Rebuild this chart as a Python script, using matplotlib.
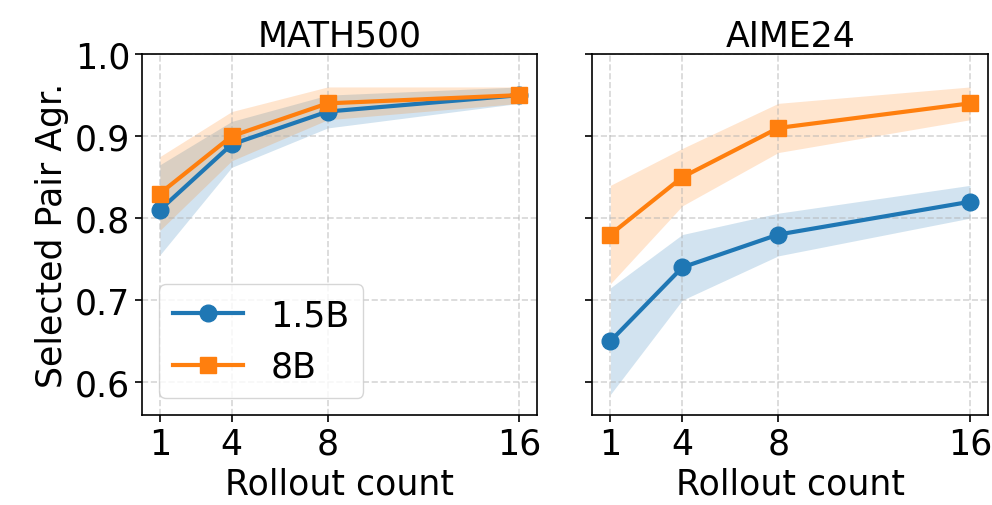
import numpy as np
import matplotlib.pyplot as plt

# rollout counts on x axis
rollouts = [1, 4, 8, 16]

# MATH500 means and band half-widths
math_15b = [0.81, 0.89, 0.93, 0.95]
math_15b_err = [0.055, 0.028, 0.02, 0.01]
math_8b = [0.83, 0.90, 0.94, 0.95]
math_8b_err = [0.045, 0.03, 0.02, 0.01]

# AIME24 means and band half-widths
aime_15b = [0.65, 0.74, 0.78, 0.82]
aime_15b_err = [0.065, 0.04, 0.026, 0.02]
aime_8b = [0.78, 0.85, 0.91, 0.94]
aime_8b_err = [0.06, 0.035, 0.03, 0.02]

titles = ['MATH500', 'AIME24']
labels = ['1.5B', '8B']
colors = ['#1f77b4', '#ff7f0e']
markers = ['o', 's']
fs = 25

fig, axes = plt.subplots(1, 2, figsize=(9.92, 5.06), dpi=100, sharey=True)
fig.subplots_adjust(left=0.143, right=0.996, top=0.891, bottom=0.178, wspace=0.139)

panels = [
    [(math_15b, math_15b_err), (math_8b, math_8b_err)],
    [(aime_15b, aime_15b_err), (aime_8b, aime_8b_err)],
]

for ax, title, series in zip(axes, titles, panels):
    for (mean, err), lab, c, m in zip(series, labels, colors, markers):
        mean = np.array(mean)
        err = np.array(err)
        ax.fill_between(rollouts, mean - err, mean + err, color=c, alpha=0.2, linewidth=0)
        ax.plot(rollouts, mean, marker=m, color=c, label=lab, linewidth=3, markersize=12)
    ax.set_title(title, fontsize=fs)
    ax.set_xticks(rollouts)
    ax.set_xlabel('Rollout count', fontsize=fs)
    ax.tick_params(labelsize=fs, width=1.2, length=5)
    ax.grid(True, linestyle='--', alpha=0.5, linewidth=1.2)
    for s in ax.spines.values():
        s.set_linewidth(1.2)

axes[0].set_ylim(0.56, 1.0)
axes[0].set_yticks([0.6, 0.7, 0.8, 0.9, 1.0])
axes[0].set_ylabel('Selected Pair Agr.', fontsize=fs)
axes[0].legend(loc='lower left', fontsize=fs)

plt.savefig('out.png', dpi=100)
